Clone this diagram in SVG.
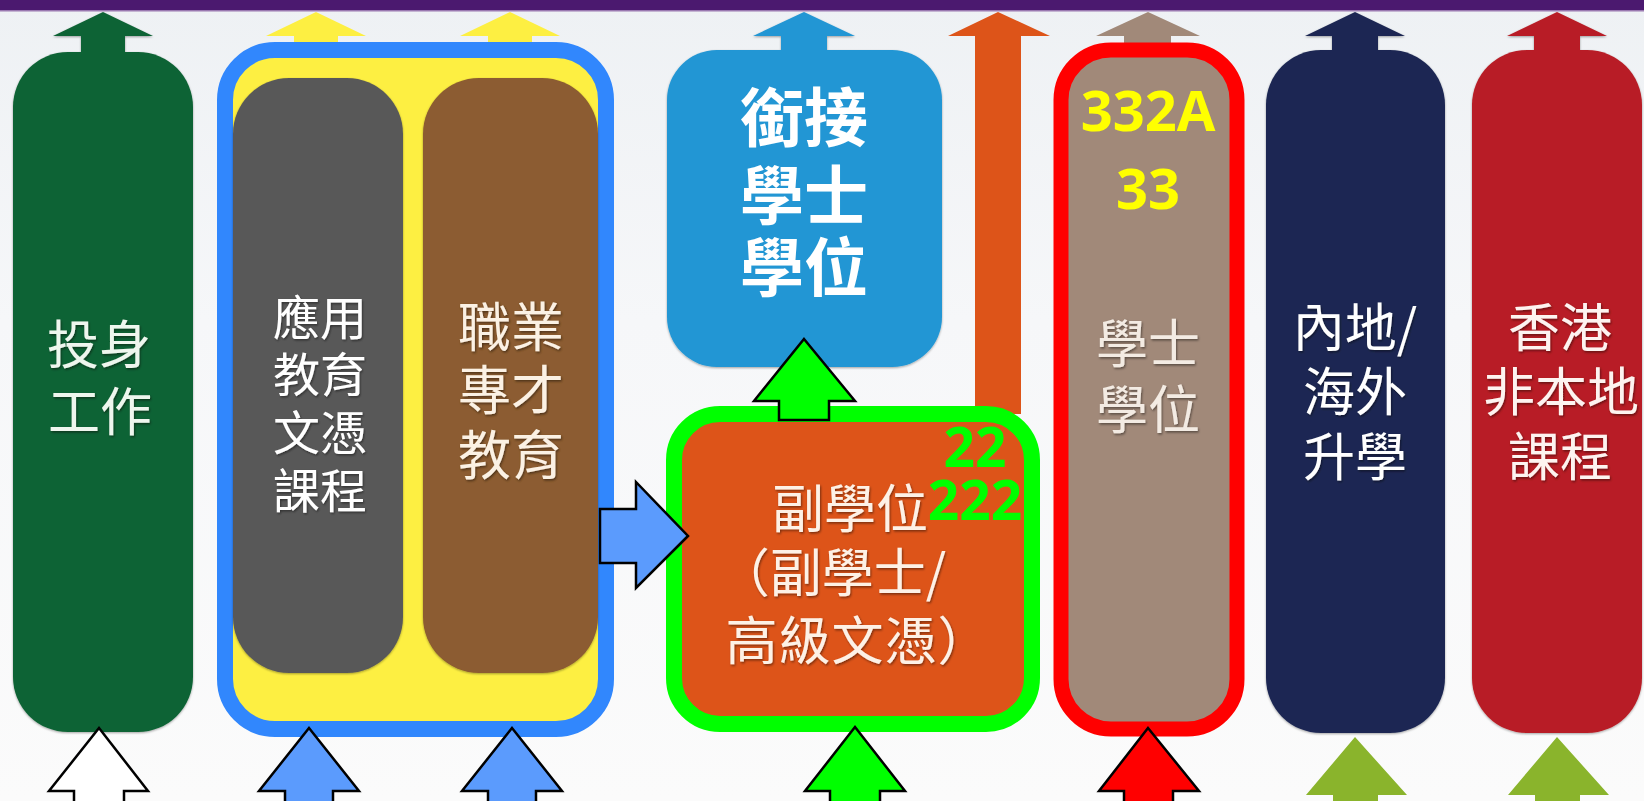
<svg xmlns="http://www.w3.org/2000/svg" width="1644" height="801" viewBox="0 0 1644 801">
<defs>
<linearGradient id="bg" x1="0" y1="0" x2="0" y2="1">
<stop offset="0" stop-color="#eef1f4"/>
<stop offset="0.4" stop-color="#f6f7f9"/>
<stop offset="1" stop-color="#fbfbfb"/>
</linearGradient>
<filter id="ts" x="-10%" y="-10%" width="130%" height="130%">
<feDropShadow dx="1" dy="1.5" stdDeviation="1" flood-color="#000" flood-opacity="0.45"/>
</filter>
<filter id="cs" x="-10%" y="-10%" width="120%" height="120%">
<feDropShadow dx="0" dy="1" stdDeviation="1.2" flood-color="#000" flood-opacity="0.35"/>
</filter>
</defs>
<style>
.cjk{font-family:"Noto Sans CJK TC","Noto Sans CJK SC",sans-serif;text-anchor:middle}
.num{font-family:"Open Sans","Liberation Sans",sans-serif;font-weight:700;text-anchor:middle}
.ol{stroke:#000;stroke-width:2.5;stroke-linejoin:miter}
</style>
<rect x="0" y="0" width="1644" height="801" fill="url(#bg)"/>
<rect x="0" y="0" width="1644" height="10" fill="#4b196f"/>
<rect x="0" y="10" width="1644" height="1.5" fill="#9a78b0"/>

<g id="top-arrows">
<polygon points="316,12 366,36 338,36 338,60 294,60 294,36 266,36" fill="#fdef42"/>
<polygon points="510,12 560,36 532,36 532,60 488,60 488,36 460,36" fill="#fdef42"/>
<polygon points="1148,12 1200,36 1171,36 1171,60 1124,60 1124,36 1096,36" fill="#a18979"/>
</g>

<g id="n-work" filter="url(#cs)">
<polygon points="103,12 153,36 125,36 125,60 81,60 81,36 53,36" fill="#106335"/>
<rect x="13" y="52" width="180" height="680" rx="55" fill="#106335"/>
<g filter="url(#ts)" fill="#eef6ee" font-size="52">
<text x="99" y="364" class="cjk">投身</text>
<text x="100" y="431" class="cjk">工作</text>
</g>
</g>

<g id="n-vocational">
<rect x="225" y="50" width="381" height="679" rx="50" fill="#fdef42" stroke="#3187fd" stroke-width="16"/>
<g id="n-applied" filter="url(#cs)">
<rect x="233" y="78" width="170" height="595" rx="56" fill="#595959"/>
<g filter="url(#ts)" fill="#ffffff" font-size="47">
<text x="320" y="335" class="cjk">應用</text>
<text x="320" y="392" class="cjk">教育</text>
<text x="320" y="450" class="cjk">文憑</text>
<text x="320" y="508" class="cjk">課程</text>
</g>
</g>
<g id="n-vpet" filter="url(#cs)">
<rect x="423" y="78" width="175" height="595" rx="56" fill="#8c5c30"/>
<g filter="url(#ts)" fill="#fbf1e4" font-size="53">
<text x="511" y="347" class="cjk">職業</text>
<text x="511" y="410" class="cjk">專才</text>
<text x="511" y="475" class="cjk">教育</text>
</g>
</g>
</g>

<g id="n-topup" filter="url(#cs)">
<polygon points="804,12 855,36 827,36 827,60 781,60 781,36 753,36" fill="#2196d4"/>
<rect x="667" y="50" width="275" height="317" rx="50" fill="#2196d4"/>
<g fill="#ffffff" font-size="64" font-weight="700">
<text x="804" y="141" class="cjk">銜接</text>
<text x="804" y="219" class="cjk">學士</text>
<text x="804" y="291" class="cjk">學位</text>
</g>
</g>

<g id="c-orange-up">
<polygon points="998,12 1050,36 1021,36 1021,414 975,414 975,36 948,36" fill="#dd5419"/>
</g>

<g id="n-subdegree">
<rect x="674" y="414" width="358" height="310" rx="46" fill="#dd5419" stroke="#00ff00" stroke-width="16"/>
<g filter="url(#ts)" fill="#fdf1e6" font-size="52">
<text x="850" y="528" class="cjk">副學位</text>
<text x="832" y="592" class="cjk">（副學士/</text>
<text x="858" y="660" class="cjk" letter-spacing="1">高級文憑）</text>
</g>
<text x="975" y="467" class="num" font-size="55" fill="#00ff00">22</text>
<text x="975" y="520" class="num" font-size="55" fill="#00ff00">222</text>
</g>

<g id="n-degree">
<rect x="1061" y="50" width="176" height="679" rx="50" fill="#a18979" stroke="#ff0000" stroke-width="15"/>
<text x="1148" y="131" class="num" font-size="56" fill="#ffff00">332A</text>
<text x="1148" y="209" class="num" font-size="56" fill="#ffff00">33</text>
<g filter="url(#ts)" fill="#f3ebe3" font-size="52">
<text x="1148" y="363" class="cjk">學士</text>
<text x="1148" y="429" class="cjk">學位</text>
</g>
</g>

<g id="n-mainland" filter="url(#cs)">
<polygon points="1355,12 1405,36 1378,36 1378,60 1332,60 1332,36 1305,36" fill="#1d2853"/>
<rect x="1266" y="50" width="179" height="683" rx="55" fill="#1d2853"/>
<g filter="url(#ts)" fill="#ffffff" font-size="52">
<text x="1355" y="347" class="cjk">內地/</text>
<text x="1355" y="411" class="cjk">海外</text>
<text x="1355" y="476" class="cjk">升學</text>
</g>
</g>

<g id="n-nonlocal" filter="url(#cs)">
<polygon points="1557,12 1607,36 1580,36 1580,60 1534,60 1534,36 1507,36" fill="#b81d25"/>
<rect x="1472" y="50" width="170" height="683" rx="55" fill="#b81d25"/>
<g filter="url(#ts)" fill="#fdf3f0" font-size="52">
<text x="1560" y="347" class="cjk">香港</text>
<text x="1561" y="411" class="cjk">非本地</text>
<text x="1560" y="476" class="cjk">課程</text>
</g>
</g>

<g id="connectors">
<polygon class="ol" points="804,339 855,401 829,401 829,420 779,420 779,401 754,401" fill="#00ff00"/>
<polygon class="ol" points="688,536 636,588 636,563 600,563 600,509 636,509 636,482" fill="#5b9bfd"/>
<polygon class="ol" points="99,728 148,791 124,791 124,806 74,806 74,791 49,791" fill="#ffffff"/>
<polygon class="ol" points="309,728 359,791 333,791 333,806 285,806 285,791 259,791" fill="#5b9bfd"/>
<polygon class="ol" points="512,728 562,791 536,791 536,806 488,806 488,791 462,791" fill="#5b9bfd"/>
<polygon class="ol" points="855,727 905,791 880,791 880,806 830,806 830,791 805,791" fill="#00ff00"/>
<polygon class="ol" points="1148,728 1199,791 1173,791 1173,806 1124,806 1124,791 1099,791" fill="#ff0000"/>
<polygon points="1355,737 1407,795 1378,795 1378,806 1333,806 1333,795 1306,795" fill="#8ab42c"/>
<polygon points="1557,737 1609,795 1580,795 1580,806 1535,806 1535,795 1508,795" fill="#8ab42c"/>
</g>
</svg>
